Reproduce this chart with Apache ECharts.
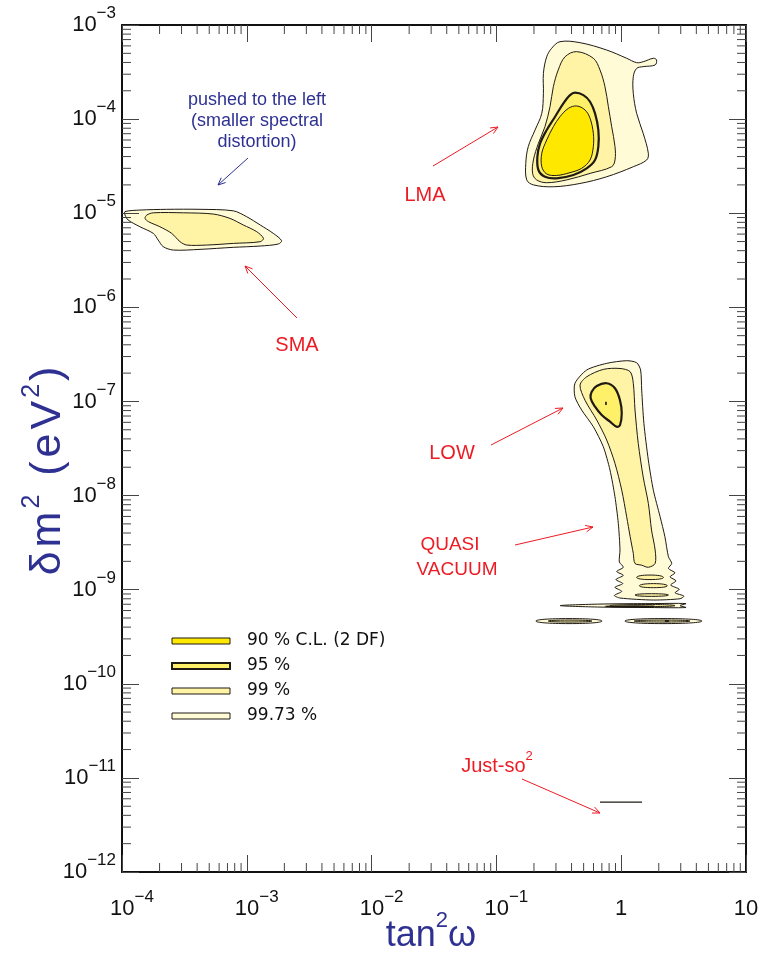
<!DOCTYPE html>
<html>
<head>
<meta charset="utf-8">
<script src="https://cdn.jsdelivr.net/npm/echarts@6/dist/echarts.min.js"></script>
<style>
  html, body { margin: 0; padding: 0; background: #ffffff; }
  #chart { width: 764px; height: 955px; }
</style>
</head>
<body>
<div id="chart"></div>
<script>
// ---- axis ranges ----
const xRange = [1e-4, 10];
const yRange = [1e-12, 1e-3];

// ---- allowed regions, outlines as [tan^2 omega, delta m^2 (eV^2)] ----
// LMA solution
const lma9973 = [[0.323,6.65e-4],[0.467,6.49e-4],[0.765,5.42e-4],[1.106,4.43e-4],[1.33,3.98e-4],[1.50,4.07e-4],[1.81,4.43e-4],[1.92,4.25e-4],[1.87,3.76e-4],[1.50,3.61e-4],[1.33,3.46e-4],[1.25,2.83e-4],[1.25,1.88e-4],[1.33,1.15e-4],[1.50,7.06e-5],[1.65,4.33e-5],[1.60,3.68e-5],[1.25,3.12e-5],[0.765,2.44e-5],[0.467,2.07e-5],[0.286,1.91e-5],[0.198,2.0e-5],[0.175,2.26e-5],[0.172,3.39e-5],[0.180,5.10e-5],[0.204,7.66e-5],[0.231,1.15e-4],[0.238,1.88e-4],[0.238,3.06e-4],[0.253,4.60e-4],[0.277,5.65e-4]];
const lma99 = [[0.440,5.21e-4],[0.598,4.43e-4],[0.676,3.33e-4],[0.741,2.21e-4],[0.789,1.36e-4],[0.839,8.31e-5],[0.892,5.10e-5],[0.892,3.68e-5],[0.839,3.12e-5],[0.563,2.65e-5],[0.366,2.26e-5],[0.253,2.11e-5],[0.210,2.26e-5],[0.195,2.65e-5],[0.198,3.68e-5],[0.217,5.52e-5],[0.245,8.31e-5],[0.269,1.36e-4],[0.286,2.21e-4],[0.313,3.33e-4],[0.355,4.60e-4]];
const lma95 = [[0.426,1.91e-4],[0.498,1.80e-4],[0.563,1.53e-4],[0.617,1.15e-4],[0.656,7.66e-5],[0.656,5.10e-5],[0.617,3.68e-5],[0.529,3.00e-5],[0.414,2.55e-5],[0.304,2.35e-5],[0.245,2.44e-5],[0.217,2.88e-5],[0.213,3.99e-5],[0.224,5.52e-5],[0.253,7.66e-5],[0.295,1.06e-4],[0.344,1.47e-4],[0.389,1.80e-4]];
const lma90 = [[0.440,1.38e-4],[0.513,1.25e-4],[0.563,1.02e-4],[0.598,7.06e-5],[0.598,5.10e-5],[0.563,3.68e-5],[0.482,3.00e-5],[0.389,2.70e-5],[0.304,2.52e-5],[0.253,2.61e-5],[0.231,3.12e-5],[0.231,4.33e-5],[0.253,6.0e-5],[0.286,8.31e-5],[0.323,1.06e-4],[0.377,1.30e-4]];

// SMA solution
const sma9973 = [[1.057e-4,1.04e-5],[1.39e-4,1.08e-5],[2.28e-4,1.10e-5],[4.22e-4,1.10e-5],[7.80e-4,1.06e-5],[9.98e-4,9.18e-6],[1.28e-3,7.50e-6],[1.63e-3,6.11e-6],[1.90e-3,5.11e-6],[1.79e-3,4.71e-6],[1.28e-3,4.48e-6],[7.80e-4,4.34e-6],[4.22e-4,4.13e-6],[2.58e-4,4.06e-6],[2.14e-4,4.41e-6],[1.95e-4,5.19e-6],[1.78e-4,6.11e-6],[1.39e-4,7.19e-6],[1.12e-4,8.47e-6],[1.057e-4,9.57e-6]];
const sma99 = [[1.58e-4,9.57e-6],[1.78e-4,1.01e-5],[3.10e-4,1.01e-5],[5.39e-4,9.80e-6],[7.33e-4,8.81e-6],[9.37e-4,7.50e-6],[1.20e-3,6.37e-6],[1.36e-3,5.41e-6],[1.28e-3,4.98e-6],[7.80e-4,4.78e-6],[4.77e-4,4.59e-6],[3.30e-4,4.59e-6],[2.92e-4,4.98e-6],[2.50e-4,6.11e-6],[2.01e-4,7.19e-6],[1.63e-4,8.13e-6],[1.53e-4,8.81e-6]];

// LOW and quasi-vacuum band
const low9973 = [[0.426,1.56e-7],[0.530,2.16e-7],[0.765,2.54e-7],[1.106,2.71e-7],[1.33,2.58e-7],[1.43,2.16e-7],[1.46,1.32e-7],[1.52,5.85e-8],[1.65,2.38e-8],[1.81,1.14e-8],[2.05,5.96e-9],[2.24,3.65e-9],[2.39,2.24e-9],[2.54,1.90e-9],[2.39,1.68e-9],[2.70,1.51e-9],[2.46,1.37e-9],[2.75,1.24e-9],[2.49,1.12e-9],[2.92,1.01e-9],[2.70,9.27e-10],[3.18,8.55e-10],[2.96,8.01e-10],[1.81,7.76e-10],[0.978,8.15e-10],[0.881,8.69e-10],[1.01,9.59e-10],[0.891,1.06e-9],[1.03,1.16e-9],[0.908,1.28e-9],[1.04,1.42e-9],[0.920,1.56e-9],[1.04,1.73e-9],[0.966,1.97e-9],[0.978,2.64e-9],[0.948,5.06e-9],[0.891,9.72e-9],[0.813,1.87e-8],[0.719,3.30e-8],[0.598,5.39e-8],[0.482,8.11e-8],[0.426,1.12e-7]];
const low99 = [[0.468,1.49e-7],[0.530,1.83e-7],[0.719,2.19e-7],[0.978,2.24e-7],[1.18,2.07e-7],[1.25,1.56e-7],[1.29,8.11e-8],[1.37,3.58e-8],[1.50,1.58e-8],[1.65,8.26e-9],[1.75,4.30e-9],[1.87,2.64e-9],[1.87,1.90e-9],[1.65,1.73e-9],[1.46,1.82e-9],[1.29,1.90e-9],[1.25,2.43e-9],[1.18,3.65e-9],[1.106,5.96e-9],[1.01,1.14e-8],[0.891,2.20e-8],[0.765,3.89e-8],[0.637,6.34e-8],[0.513,1.03e-7]];
const low99IslandA = [[1.33,1.35e-9],[1.70,1.43e-9],[2.18,1.35e-9],[1.70,1.28e-9]];
const low99IslandB = [[1.40,1.10e-9],[1.81,1.16e-9],[2.34,1.10e-9],[1.81,1.05e-9]];
const low99IslandC = [[1.29,8.77e-10],[1.75,9.06e-10],[2.39,8.77e-10],[1.75,8.49e-10]];
const low95 = [[0.580,1.27e-7],[0.637,1.46e-7],[0.765,1.56e-7],[0.891,1.38e-7],[0.978,1.03e-7],[1.01,7.47e-8],[0.978,5.61e-8],[0.920,5.39e-8],[0.813,6.10e-8],[0.698,7.18e-8],[0.617,8.80e-8],[0.569,1.08e-7]];
const low90 = [[0.752,9.8e-8],[0.758,9.8e-8],[0.758,9.3e-8],[0.752,9.3e-8]];

// thin vacuum slivers
const vacMid9973 = [[0.324,6.77e-10],[0.676,7.03e-10],[1.70,7.11e-10],[3.30,7.11e-10],[2.96,6.77e-10],[3.30,6.46e-10],[1.70,6.46e-10],[0.676,6.53e-10]];
const vacMid99 = [[0.813,6.77e-10],[1.70,6.95e-10],[2.70,6.77e-10],[1.70,6.61e-10]];
const vacMid95 = [[0.741,6.66e-10],[1.30,6.73e-10],[1.87,6.66e-10],[1.30,6.58e-10]];
const vacLeft9973 = [[0.207,4.64e-10],[0.382,4.93e-10],[0.702,4.64e-10],[0.382,4.36e-10]];
const vacLeft99 = [[0.260,4.64e-10],[0.382,4.75e-10],[0.583,4.64e-10],[0.382,4.53e-10]];
const vacRight9973 = [[1.07,4.64e-10],[2.16,4.93e-10],[4.43,4.64e-10],[2.16,4.36e-10]];
const vacRight99 = [[1.27,4.64e-10],[2.16,4.75e-10],[3.56,4.64e-10],[2.16,4.53e-10]];
const vacRight95 = [[2.25,4.68e-10],[2.40,4.68e-10],[2.40,4.60e-10],[2.25,4.60e-10]];

// Just-so^2 sliver
const justSo = [[0.676,5.53e-12],[1.47,5.53e-12]];

// legend entries
const levelNames = ['90 % C.L. (2 DF)', '95 %', '99 %', '99.73 %'];

// ---- styling ----
const C90 = '#ffe800', C95 = '#fff06a', C99 = '#fff4a5', C9973 = '#fffbd6';
const EDGE = '#1f1a14';
const RED = '#ec1c24', BLUE = '#2e3192';
const SANS = '"Liberation Sans", Arial, Helvetica, sans-serif';

// minor tick values (2..9 within each decade)
const xMinor = [], yMinor = [];
for (let d = -4; d < 1; d++) for (let k = 2; k <= 9; k++) xMinor.push([k * Math.pow(10, d), 1e-6]);
for (let d = -12; d < -3; d++) for (let k = 2; k <= 9; k++) yMinor.push([1e-2, k * Math.pow(10, d)]);

function region(points, fill, lineWidth, smooth) {
  return {
    type: 'custom', coordinateSystem: 'cartesian2d', clip: true, silent: true,
    data: points,
    renderItem: function (params, api) {
      if (params.dataIndex !== 0) return null;
      return {
        type: 'polygon',
        shape: { points: points.map(p => api.coord(p)), smooth: smooth },
        style: { fill: fill, stroke: EDGE, lineWidth: lineWidth }
      };
    }
  };
}

function minorTicks(data, horizontal) {
  return {
    type: 'custom', coordinateSystem: 'cartesian2d', silent: true, z: 6,
    data: data,
    renderItem: function (params, api) {
      const len = 9;
      if (!horizontal) {
        const v = api.value(0);
        const b = api.coord([v, yRange[0]]);
        const t = api.coord([v, yRange[1]]);
        return { type: 'group', children: [
          { type: 'line', shape: { x1: b[0], y1: b[1], x2: b[0], y2: b[1] - len }, style: { stroke: '#444', lineWidth: 1 } },
          { type: 'line', shape: { x1: t[0], y1: t[1], x2: t[0], y2: t[1] + len }, style: { stroke: '#444', lineWidth: 1 } }
        ]};
      }
      const v = api.value(1);
      const l = api.coord([xRange[0], v]);
      const r = api.coord([xRange[1], v]);
      return { type: 'group', children: [
        { type: 'line', shape: { x1: l[0], y1: l[1], x2: l[0] + len, y2: l[1] }, style: { stroke: '#444', lineWidth: 1 } },
        { type: 'line', shape: { x1: r[0], y1: r[1], x2: r[0] - len, y2: r[1] }, style: { stroke: '#444', lineWidth: 1 } }
      ]};
    }
  };
}

const tickRich = {
  b: { fontFamily: SANS, fontSize: 22, lineHeight: 40, verticalAlign: 'middle', color: '#111' },
  s: { fontFamily: SANS, fontSize: 17, lineHeight: 17, verticalAlign: 'top', color: '#111' },
  p: { width: 20 }
};
function expOf(v) { return Math.round(Math.log10(v)); }
function xLabel(v) {
  const e = expOf(v);
  if (e === 0) return '{b|1}';
  if (e === 1) return '{b|10}';
  return '{p| }{b|10}{s|\u2212' + (-e) + '}';
}
function yLabel(v) {
  const e = expOf(v);
  return '{b|10}{s|\u2212' + (-e) + '}';
}

const frameAxis = {
  type: 'log', logBase: 10, z: 5,
  axisLine: { show: true, onZero: false, lineStyle: { color: '#111', width: 2 } },
  axisTick: { show: true, inside: true, length: 17, lineStyle: { color: '#444', width: 1 } },
  splitLine: { show: false },
  minorTick: { show: false }
};

function arrow(x1, y1, x2, y2, color) {
  const a = Math.atan2(y2 - y1, x2 - x1), h = 8, w = 0.42;
  return {
    type: 'group', silent: true, children: [
      { type: 'line', shape: { x1: x1, y1: y1, x2: x2, y2: y2 }, style: { stroke: color, lineWidth: 1 } },
      { type: 'polyline', shape: { points: [
        [x2 - h * Math.cos(a - w), y2 - h * Math.sin(a - w)], [x2, y2],
        [x2 - h * Math.cos(a + w), y2 - h * Math.sin(a + w)]] },
        style: { stroke: color, lineWidth: 1, fill: null } }
    ]
  };
}
function label(text, x, y, color, size) {
  return { type: 'text', x: x, y: y, silent: true,
    style: { text: text, fill: color, font: size + 'px ' + SANS, align: 'center', verticalAlign: 'middle' } };
}

const legendColors = [C90, C95, C99, C9973];
const legendWidths = [1, 2, 1, 1];
const legendItems = [];
levelNames.forEach((name, i) => {
  const y = 641 + i * 25;
  legendItems.push({ type: 'rect', silent: true, shape: { x: 172, y: y - 3, width: 58, height: 6 },
    style: { fill: legendColors[i], stroke: EDGE, lineWidth: legendWidths[i] } });
  legendItems.push({ type: 'text', silent: true, x: 247, y: y,
    style: { text: name, fill: '#111', font: '17px "DejaVu Sans", sans-serif', verticalAlign: 'middle' } });
});

const titleRich = {
  a: { fontFamily: SANS, fontSize: 43, lineHeight: 50, verticalAlign: 'bottom', padding: [0, 2], fill: BLUE, color: BLUE },
  s: { fontFamily: SANS, fontSize: 25, lineHeight: 25, verticalAlign: 'top', padding: [0, 1], fill: BLUE, color: BLUE },
  t: { fontFamily: SANS, fontSize: 36, lineHeight: 44, verticalAlign: 'bottom', fill: BLUE, color: BLUE },
  u: { fontFamily: SANS, fontSize: 22, lineHeight: 22, verticalAlign: 'top', fill: BLUE, color: BLUE }
};

const chart = echarts.init(document.getElementById('chart'), null, { renderer: 'canvas' });
chart.setOption({
  animation: false,
  backgroundColor: '#ffffff',
  grid: { left: 122, right: 18, top: 25, bottom: 83 },
  xAxis: [
    Object.assign({}, frameAxis, { position: 'bottom', min: xRange[0], max: xRange[1],
      axisLabel: { margin: 17, formatter: xLabel, rich: tickRich } }),
    Object.assign({}, frameAxis, { position: 'top', min: xRange[0], max: xRange[1],
      axisLabel: { show: false } })
  ],
  yAxis: [
    Object.assign({}, frameAxis, { position: 'left', min: yRange[0], max: yRange[1], splitNumber: 9,
      axisLabel: { margin: 6, formatter: yLabel, rich: tickRich } }),
    Object.assign({}, frameAxis, { position: 'right', min: yRange[0], max: yRange[1], splitNumber: 9,
      axisLabel: { show: false } })
  ],
  series: [
    region(lma9973, C9973, 1, 0.35),
    region(lma99, C99, 1, 0.35),
    region(lma95, C95, 2.2, 0.35),
    region(lma90, C90, 1, 0.35),
    region(sma9973, C9973, 1, 0.3),
    region(sma99, C99, 1, 0.3),
    region(low9973, C9973, 1, 0.25),
    region(low99, C99, 1, 0.3),
    region(low99IslandA, C99, 1, 0.6),
    region(low99IslandB, C99, 1, 0.6),
    region(low99IslandC, C99, 1, 0.6),
    region(low95, C95, 2.2, 0.35),
    region(low90, C90, 1.2, 0),
    region(vacMid9973, C9973, 1, 0.3),
    region(vacMid99, C99, 1, 0.6),
    region(vacMid95, C95, 1.4, 0.6),
    region(vacLeft9973, C9973, 1, 0.6),
    region(vacLeft99, C99, 1, 0.6),
    region(vacRight9973, C9973, 1, 0.6),
    region(vacRight99, C99, 1, 0.6),
    region(vacRight95, EDGE, 1, 0.5),
    { type: 'line', data: justSo, symbol: 'none', silent: true,
      lineStyle: { color: EDGE, width: 1.3 } },
    minorTicks(xMinor, false),
    minorTicks(yMinor, true)
  ],
  graphic: [
    // axis titles
    { type: 'text', x: 431, y: 932, silent: true,
      style: { text: '{t|tan}{u|2}{t|\u03c9}', align: 'center', verticalAlign: 'middle', rich: titleRich } },
    { type: 'text', x: 45, y: 471, rotation: Math.PI / 2, silent: true,
      style: { text: '{a|\u03b4}{a|m}{s|2}{a| }{a|(}{a|e}{a|V}{s|2}{a|)}', align: 'center', verticalAlign: 'middle', rich: titleRich } },
    // annotations
    label('pushed to the left', 257, 100, BLUE, 18),
    label('(smaller spectral', 257, 121, BLUE, 18),
    label('distortion)', 257, 142, BLUE, 18),
    arrow(248, 158, 218, 185, BLUE),
    label('LMA', 425, 195, RED, 20),
    arrow(433, 166, 498, 127, RED),
    label('SMA', 297, 345, RED, 20),
    arrow(297, 318, 245, 266, RED),
    label('LOW', 452, 453, RED, 20),
    arrow(491, 445, 563, 408, RED),
    label('QUASI', 450, 545, RED, 19),
    label('VACUUM', 457, 570, RED, 19),
    arrow(515, 545, 593, 527, RED),
    { type: 'text', x: 497, y: 763, silent: true,
      style: { text: '{a|Just-so}{s|2}', align: 'center', verticalAlign: 'middle',
        rich: { a: { fontFamily: SANS, fontSize: 20, lineHeight: 26, verticalAlign: 'bottom', fill: RED, color: RED },
                s: { fontFamily: SANS, fontSize: 13, lineHeight: 13, verticalAlign: 'top', fill: RED, color: RED } } } },
    arrow(522, 779, 600, 813, RED)
  ].concat(legendItems)
});
</script>
</body>
</html>
